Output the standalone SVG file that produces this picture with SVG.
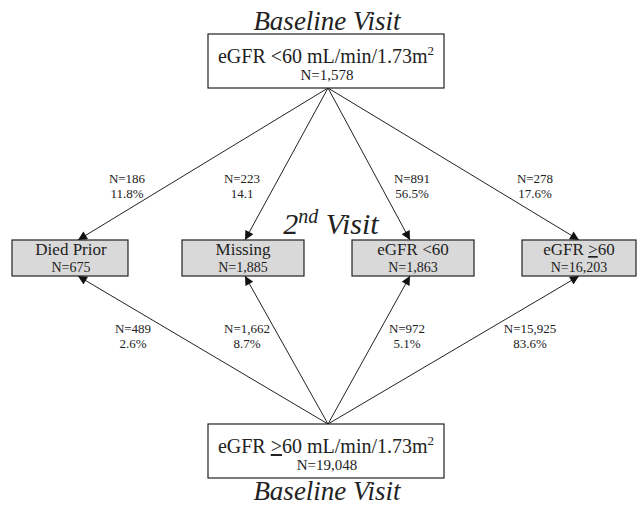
<svg xmlns="http://www.w3.org/2000/svg" width="640" height="508" viewBox="0 0 640 508">
<defs>
<style>
text{font-family:"Liberation Serif","Times New Roman",serif;fill:#222;text-anchor:middle}
.title{font-size:27px;font-style:italic}
.big{font-size:20px}
.nbig{font-size:15px}
.mid{font-size:17px}
.nmid{font-size:14px}
.lab{font-size:13px}
.wbox{fill:#fff;stroke:#222;stroke-width:1.2}
.gbox{fill:#d9d9d9;stroke:#222;stroke-width:1.2}
.conn line{stroke:#222;stroke-width:1;marker-end:url(#ah)}
</style>
<marker id="ah" viewBox="0 0 10 10" refX="10" refY="5" markerWidth="10" markerHeight="9" markerUnits="userSpaceOnUse" orient="auto">
<path d="M0,0 L10,5 L0,10 Z" fill="#111"/>
</marker>
</defs>
<rect width="640" height="508" fill="#fff"/>
<g id="connectors" class="conn">
<line x1="328" y1="88" x2="78" y2="240"/>
<line x1="328" y1="88" x2="245" y2="240"/>
<line x1="328" y1="88" x2="410" y2="240"/>
<line x1="328" y1="88" x2="579" y2="240"/>
<line x1="328" y1="424" x2="78" y2="276"/>
<line x1="328" y1="424" x2="245" y2="276"/>
<line x1="328" y1="424" x2="410" y2="276"/>
<line x1="328" y1="424" x2="579" y2="276"/>
</g>
<g id="labels">
<text class="lab" x="127" y="183">N=186</text>
<text class="lab" x="127" y="198">11.8%</text>
<text class="lab" x="242" y="183">N=223</text>
<text class="lab" x="242" y="198">14.1</text>
<text class="lab" x="412" y="183">N=891</text>
<text class="lab" x="412" y="198">56.5%</text>
<text class="lab" x="535" y="183">N=278</text>
<text class="lab" x="535" y="198">17.6%</text>
<text class="lab" x="133" y="333">N=489</text>
<text class="lab" x="133" y="348">2.6%</text>
<text class="lab" x="247" y="333">N=1,662</text>
<text class="lab" x="247" y="348">8.7%</text>
<text class="lab" x="407" y="333">N=972</text>
<text class="lab" x="407" y="348">5.1%</text>
<text class="lab" x="530" y="333">N=15,925</text>
<text class="lab" x="530" y="348">83.6%</text>
</g>
<text class="title" x="327" y="30">Baseline Visit</text>
<text class="title" x="331" y="234" style="font-size:30px">2<tspan style="font-size:20px" dy="-11">nd</tspan><tspan dy="11"> Visit</tspan></text>
<text class="title" x="327" y="500">Baseline Visit</text>
<g id="top">
<rect class="wbox" x="208" y="34" width="236" height="54"/>
<text class="big" x="326" y="63">eGFR &lt;60 mL/min/1.73m<tspan style="font-size:13px" dy="-8">2</tspan></text>
<text class="nbig" x="327" y="80">N=1,578</text>
</g>
<g id="died">
<rect class="gbox" x="12" y="240" width="116" height="36"/>
<text class="mid" x="71" y="255">Died Prior</text>
<text class="nmid" x="71" y="272">N=675</text>
</g>
<g id="missing">
<rect class="gbox" x="182" y="240" width="122" height="36"/>
<text class="mid" x="243" y="255">Missing</text>
<text class="nmid" x="243" y="272">N=1,885</text>
</g>
<g id="low">
<rect class="gbox" x="352" y="240" width="122" height="36"/>
<text class="mid" x="413" y="255">eGFR &lt;60</text>
<text class="nmid" x="413" y="272">N=1,863</text>
</g>
<g id="high">
<rect class="gbox" x="522" y="240" width="114" height="36"/>
<text class="mid" x="579" y="255">eGFR <tspan text-decoration="underline">&gt;</tspan>60</text>
<text class="nmid" x="579" y="272">N=16,203</text>
</g>
<g id="bottom">
<rect class="wbox" x="208" y="424" width="236" height="54"/>
<text class="big" x="326" y="453">eGFR <tspan text-decoration="underline">&gt;</tspan>60 mL/min/1.73m<tspan style="font-size:13px" dy="-8">2</tspan></text>
<text class="nbig" x="327" y="470">N=19,048</text>
</g>
</svg>
